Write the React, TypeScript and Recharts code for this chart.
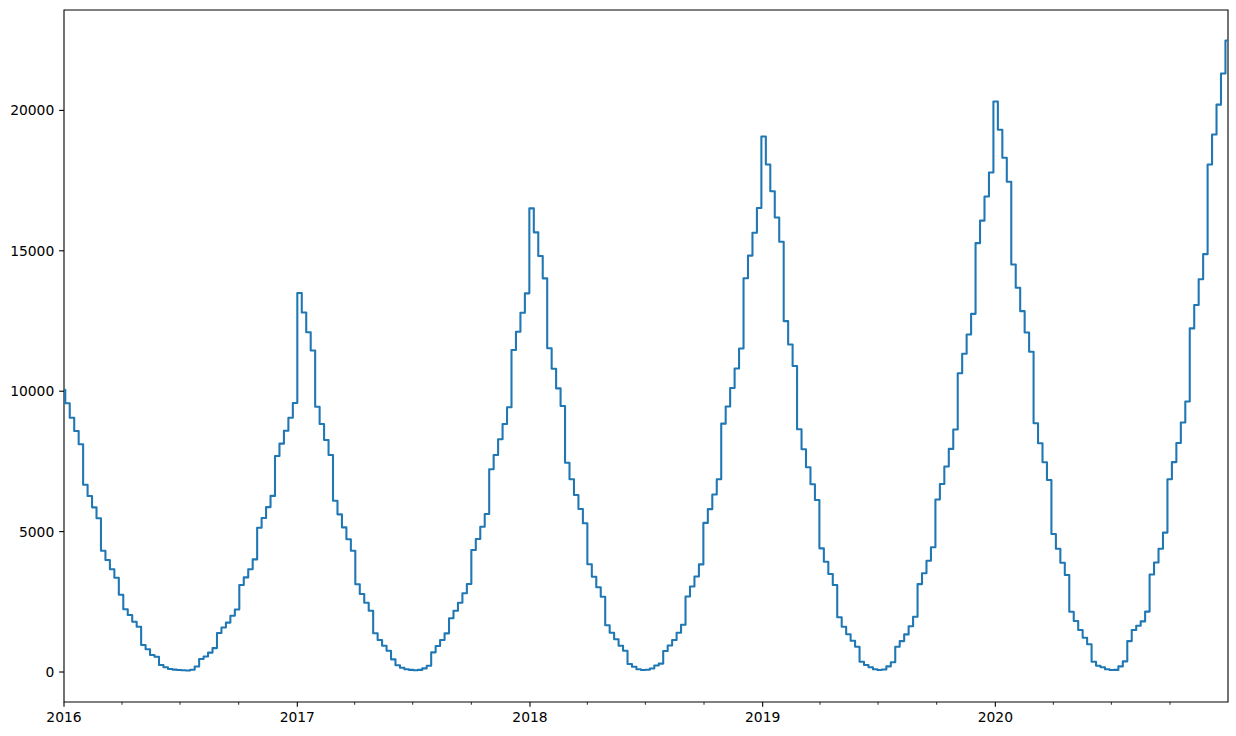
import { LineChart, Line, XAxis, YAxis, ReferenceArea } from "recharts"

// value on 1-2 Jan 2016, then one value per week (weeks start on Sunday 3 Jan 2016)
const startValue = 10050

const weekly2016 = [
  9568, 9057, 8582, 8108, 6670, 6267, 5864, 5473, 4320, 3988,
  3657, 3359, 2750, 2233, 2030, 1791, 1613, 961, 808, 605,
  545, 249, 167, 110, 85, 70, 60, 55, 80, 196,
  463, 555, 691, 851, 1389, 1588, 1759, 2001, 2229, 3098,
  3369, 3661, 4010, 5135, 5484, 5872, 6271, 7692, 8133, 8589,
  9056, 9579,
]

const weekly2017 = [
  13500, 12800, 12100, 11450, 9448, 8831, 8262, 7727, 6100, 5615,
  5152, 4725, 4320, 3123, 2778, 2468, 2183, 1378, 1139, 937,
  758, 450, 238, 153, 100, 75, 65, 75, 130, 225,
  700, 926, 1139, 1377, 1912, 2183, 2468, 2802, 3134, 4344,
  4736, 5174, 5626, 7218, 7727, 8286, 8831, 9426, 11466, 12119,
  12796, 13485,
]

const weekly2018 = [
  16512, 15657, 14814, 14019, 11527, 10800, 10100, 9472, 7453, 6862,
  6303, 5805, 5295, 3835, 3394, 3016, 2682, 1663, 1400, 1164,
  937, 758, 285, 190, 100, 70, 80, 128, 231, 299,
  751, 944, 1139, 1399, 1684, 2692, 3045, 3404, 3832, 5310,
  5801, 6321, 6862, 8845, 9454, 10113, 10811, 11523, 14024, 14828,
  15644, 16523,
]

const weekly2019 = [
  19073, 18075, 17118, 16185, 15320, 12496, 11666, 10900, 8642, 7930,
  7290, 6684, 6125, 4404, 3928, 3490, 3098, 1948, 1613, 1342,
  1115, 901, 367, 249, 167, 100, 70, 90, 200, 350,
  900, 1100, 1340, 1630, 1969, 3130, 3518, 3960, 4444, 6146,
  6698, 7321, 7945, 8636, 10640, 11331, 12022, 12755, 15273, 16074,
  16932, 17790,
]

const weekly2020 = [
  20319, 19311, 18314, 17460, 14511, 13681, 12851, 12093, 11402, 8856,
  8144, 7467, 6837, 4914, 4391, 3892, 3454, 2147, 1816, 1496,
  1221, 986, 367, 225, 167, 96, 70, 75, 200, 380,
  1100, 1496, 1650, 1802, 2151, 3472, 3899, 4387, 4964, 6866,
  7475, 8158, 8888, 9632, 12236, 13072, 13984, 14881, 18075, 19140,
  20205, 21316, 22487,
]

const years = [2016, 2017, 2018, 2019, 2020]
const yTicks = [0, 5000, 10000, 15000, 20000]

const DAY = 86400000
const T0 = Date.UTC(2016, 0, 1)
const dayOf = (y: number, m: number, d = 1) => Math.round((Date.UTC(y, m, d) - T0) / DAY)
const LAST_DAY = dayOf(2020, 11, 31)
const FIRST_WEEK = dayOf(2016, 0, 3)

const weekly = [...weekly2016, ...weekly2017, ...weekly2018, ...weekly2019, ...weekly2020]
const data = [
  { day: 0, value: startValue },
  ...weekly.map((value, i) => ({ day: FIRST_WEEK + 7 * i, value })),
  { day: LAST_DAY, value: weekly[weekly.length - 1] },
]

const yearDays = years.map((y) => dayOf(y, 0))
const quarterDays = years.flatMap((y) => [dayOf(y, 3), dayOf(y, 6), dayOf(y, 9)])
const xTicks = [...yearDays, ...quarterDays].sort((a, b) => a - b)

const Y_MIN = -1068
const Y_MAX = 23575
const FONT = "DejaVu Sans"

function DateTick(props: any) {
  const { x, y, payload } = props
  const idx = yearDays.indexOf(payload.value)
  const major = idx >= 0
  return (
    <g>
      <line
        x1={x}
        x2={x}
        y1={y}
        y2={y + (major ? 4.86 : 2.78)}
        stroke="#000"
        strokeWidth={major ? 1.1 : 0.83}
      />
      {major && (
        <text
          x={x}
          y={y + 9.72}
          dy="0.76em"
          textAnchor="middle"
          fontSize={13.89}
          fontFamily={FONT}
          fill="#000"
        >
          {years[idx]}
        </text>
      )}
    </g>
  )
}

export default function App() {
  return (
    <div style={{ position: "absolute", left: 0, top: 0, background: "#fff" }}>
      <LineChart
        width={1236}
        height={736}
        data={data}
        margin={{ top: 10, right: 8, bottom: 0, left: 0 }}
      >
        <XAxis
          dataKey="day"
          type="number"
          domain={[0, LAST_DAY]}
          allowDataOverflow
          ticks={xTicks}
          interval={0}
          height={34}
          axisLine={false}
          tickLine={false}
          tickSize={0}
          tickMargin={0}
          tick={<DateTick />}
        />
        <YAxis
          type="number"
          domain={[Y_MIN, Y_MAX]}
          allowDataOverflow
          ticks={yTicks}
          interval={0}
          width={64}
          axisLine={false}
          tickSize={4.86}
          tickMargin={4.86}
          tickLine={{ stroke: "#000", strokeWidth: 1.1 }}
          tick={{ fill: "#000", fontSize: 13.89, fontFamily: FONT }}
        />
        <ReferenceArea
          x1={0}
          x2={LAST_DAY}
          y1={Y_MIN}
          y2={Y_MAX}
          fill="none"
          stroke="#000"
          strokeWidth={1.1}
        />
        <Line
          type="stepAfter"
          dataKey="value"
          stroke="#1f77b4"
          strokeWidth={2.08}
          strokeLinejoin="round"
          dot={false}
          isAnimationActive={false}
        />
      </LineChart>
    </div>
  )
}
